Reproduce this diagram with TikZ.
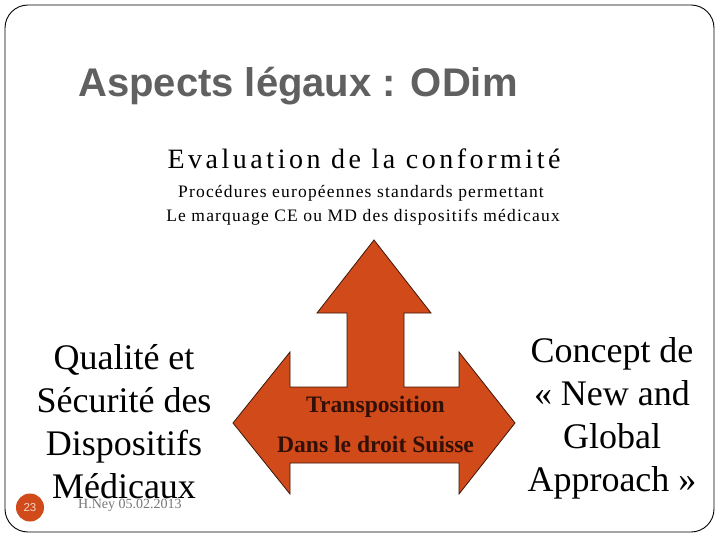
\documentclass[tikz,border=0pt]{standalone}
\usepackage{fontspec}
\setmainfont{Liberation Serif}
\newfontfamily\titlefont{Liberation Sans}
\newfontfamily\evalfont[LetterSpace=12.6]{Liberation Serif}
\newfontfamily\procfont[LetterSpace=6.8]{Liberation Serif}
\definecolor{arrowfill}{RGB}{208,74,26}
\definecolor{titlegray}{RGB}{96,96,96}
\definecolor{arrowtext}{RGB}{50,16,6}
\definecolor{footgray}{RGB}{120,120,120}
\definecolor{numtext}{RGB}{245,215,200}
\begin{document}
\begin{tikzpicture}[x=1pt,y=-1pt,
  serif/.style={font=\fontsize{36}{43}\selectfont, align=center, inner sep=0pt},
  arrowlabel/.style={font=\fontsize{23.6}{28}\selectfont\bfseries, text=arrowtext, inner sep=0pt, anchor=base}]
\useasboundingbox (0,0) rectangle (720,540);
\fill[white] (0,0) rectangle (720,540);
\draw[line width=0.9pt, rounded corners=23pt] (5,5) rectangle (714,532);
\node[anchor=base west, inner sep=0pt, text=titlegray, font=\titlefont\bfseries\fontsize{40}{48}\selectfont] (title) at (78,97) {Aspects légaux : ODim};
\node[anchor=base, inner sep=0pt, font=\evalfont\fontsize{28}{34}\selectfont] (eval) at (364,169) {Evaluation de la conformité};
\node[anchor=base, inner sep=0pt, font=\procfont\fontsize{17.5}{20}\selectfont] (proc1) at (361,197) {Procédures européennes standards permettant};
\node[anchor=base, inner sep=0pt, font=\procfont\fontsize{17.5}{20}\selectfont] (proc2) at (363,222) {Le marquage CE ou MD des dispositifs médicaux};
\draw[fill=arrowfill, draw=black!70!arrowfill, line width=0.8pt] (374,240) -- (431,313) -- (404,313) -- (404,387) -- (459,387) -- (459,352) -- (515,423) -- (459,494) -- (459,463) -- (290,463) -- (290,494) -- (233,423) -- (290,352) -- (290,387) -- (347,387) -- (347,313) -- (317,313) -- cycle;
\node[arrowlabel] (trans) at (375.5,412) {Transposition};
\node[arrowlabel] (droit) at (375.5,452) {Dans le droit Suisse};
\node[serif, anchor=north] (left) at (124,344) {Qualité et\\Sécurité des\\Dispositifs\\Médicaux};
\node[serif, anchor=north] (right) at (612,337) {Concept de\\« New and\\Global\\Approach »};
\fill[arrowfill] (30,507.5) circle (14);
\node[text=numtext, font=\titlefont\fontsize{11.5}{13}\selectfont, inner sep=0pt] (num) at (30,507.5) {23};
\node[anchor=base west, inner sep=0pt, text=footgray, font=\fontsize{14}{16}\selectfont] (foot) at (78,508) {H.Ney 05.02.2013};
\end{tikzpicture}
\end{document}
